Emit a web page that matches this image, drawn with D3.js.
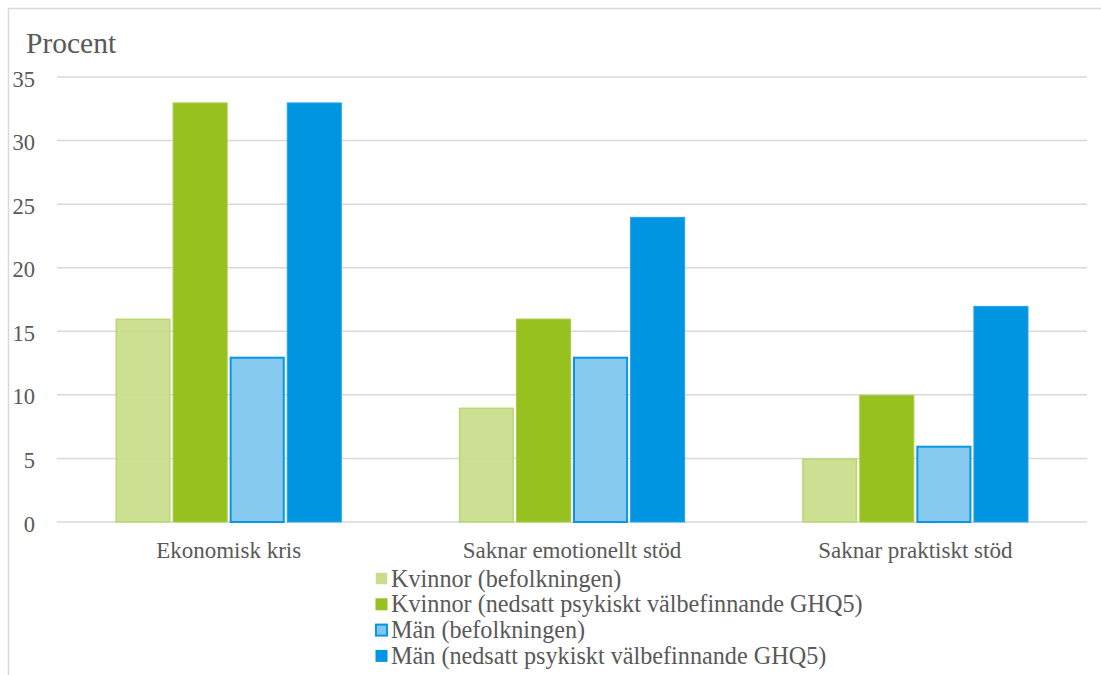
<!DOCTYPE html>
<html>
<head>
<meta charset="utf-8">
<script src="https://cdn.jsdelivr.net/npm/d3@7"></script>
<style>
  html, body { margin: 0; padding: 0; background: #ffffff; }
  svg { display: block; }
</style>
</head>
<body>
<svg id="chart" width="1101" height="675"></svg>
<script>
// Andel (procent) per kategori och grupp
const categories = ["Ekonomisk kris", "Saknar emotionellt stöd", "Saknar praktiskt stöd"];
const seriesNames = [
  "Kvinnor (befolkningen)",
  "Kvinnor (nedsatt psykiskt välbefinnande GHQ5)",
  "Män (befolkningen)",
  "Män (nedsatt psykiskt välbefinnande GHQ5)"
];
const kvinnorBefolkning = [16, 9, 5];
const kvinnorGHQ5 = [33, 16, 10];
const manBefolkning = [13, 13, 6];
const manGHQ5 = [33, 24, 17];
const yTicks = [0, 5, 10, 15, 20, 25, 30, 35];

const seriesValues = [kvinnorBefolkning, kvinnorGHQ5, manBefolkning, manGHQ5];
const styles = [
  { fill: "#c9dd8c", stroke: "#b9d872", width: 1.5 },
  { fill: "#97c11f", stroke: "#a8cc45", width: 1 },
  { fill: "#7fc7ef", stroke: "#0a96e0", width: 2 },
  { fill: "#0095e0", stroke: "#27a5e6", width: 1 }
];
const textColor = "#595959";
const fontFamily = '"Liberation Serif", "Times New Roman", Times, serif';

const svg = d3.select("#chart");

// Ramen runt diagrammet
svg.append("path")
  .attr("d", "M8.5,675 V8.5 H1101")
  .attr("fill", "none")
  .attr("stroke", "#d9d9d9")
  .attr("stroke-width", 1.5);

const plot = { left: 57, right: 1087, top: 77, bottom: 522 };

const y = d3.scaleLinear().domain([0, 35]).range([plot.bottom, plot.top]);
const x0 = d3.scaleBand().domain(categories).range([plot.left, plot.right]).paddingInner(0.335).paddingOuter(0.1675);
const x1 = d3.scaleBand().domain(d3.range(seriesNames.length)).range([0, x0.bandwidth()]);

// Stödlinjer
svg.append("g")
  .selectAll("line")
  .data(yTicks)
  .join("line")
  .attr("x1", plot.left).attr("x2", plot.right)
  .attr("y1", d => y(d)).attr("y2", d => y(d))
  .attr("stroke", "#d9d9d9")
  .attr("stroke-width", 1.5);

// Y-axelns etiketter
svg.append("g")
  .selectAll("text")
  .data(yTicks)
  .join("text")
  .attr("x", 35)
  .attr("y", d => y(d) + 9.5)
  .attr("text-anchor", "end")
  .attr("fill", textColor)
  .style("font-family", fontFamily)
  .style("font-size", "22.5px")
  .text(d => d);

svg.append("text")
  .attr("x", 26)
  .attr("y", 53)
  .attr("fill", textColor)
  .style("font-family", fontFamily)
  .style("font-size", "29.5px")
  .text("Procent");

// Staplar
const groups = svg.append("g")
  .selectAll("g")
  .data(categories)
  .join("g")
  .attr("transform", d => `translate(${x0(d)},0)`);

groups.selectAll("rect")
  .data((d, ci) => seriesValues.map((vals, si) => ({ si, v: vals[ci] })))
  .join("rect")
  .attr("x", d => x1(d.si) + 1 + styles[d.si].width / 2)
  .attr("width", d => x1.bandwidth() - 2 - styles[d.si].width)
  .attr("y", d => y(d.v) + styles[d.si].width / 2)
  .attr("height", d => y(0) - y(d.v) - styles[d.si].width / 2)
  .attr("fill", d => styles[d.si].fill)
  .attr("fill-opacity", d => (d.si === 0 || d.si === 2) ? 0.94 : 1)
  .attr("stroke", d => styles[d.si].stroke)
  .attr("stroke-width", d => styles[d.si].width);

// Kategorietiketter
svg.append("g")
  .selectAll("text")
  .data(categories)
  .join("text")
  .attr("x", d => x0(d) + x0.bandwidth() / 2)
  .attr("y", 558)
  .attr("text-anchor", "middle")
  .attr("fill", textColor)
  .style("font-family", fontFamily)
  .style("font-size", "23px")
  .text(d => d);

// Teckenförklaring
const legend = svg.append("g")
  .selectAll("g")
  .data(seriesNames)
  .join("g")
  .attr("transform", (d, i) => `translate(375,${578.5 + i * 25.8})`);

legend.append("rect")
  .attr("x", (d, i) => styles[i].width / 2)
  .attr("y", (d, i) => -6.5 + styles[i].width / 2)
  .attr("width", (d, i) => 13 - styles[i].width)
  .attr("height", (d, i) => 13 - styles[i].width)
  .attr("fill", (d, i) => styles[i].fill)
  .attr("stroke", (d, i) => (i === 2 ? styles[i].stroke : "none"))
  .attr("stroke-width", (d, i) => styles[i].width);

legend.append("text")
  .attr("x", 16)
  .attr("y", 8)
  .attr("fill", textColor)
  .style("font-family", fontFamily)
  .style("font-size", "24.2px")
  .text(d => d);
</script>
</body>
</html>
